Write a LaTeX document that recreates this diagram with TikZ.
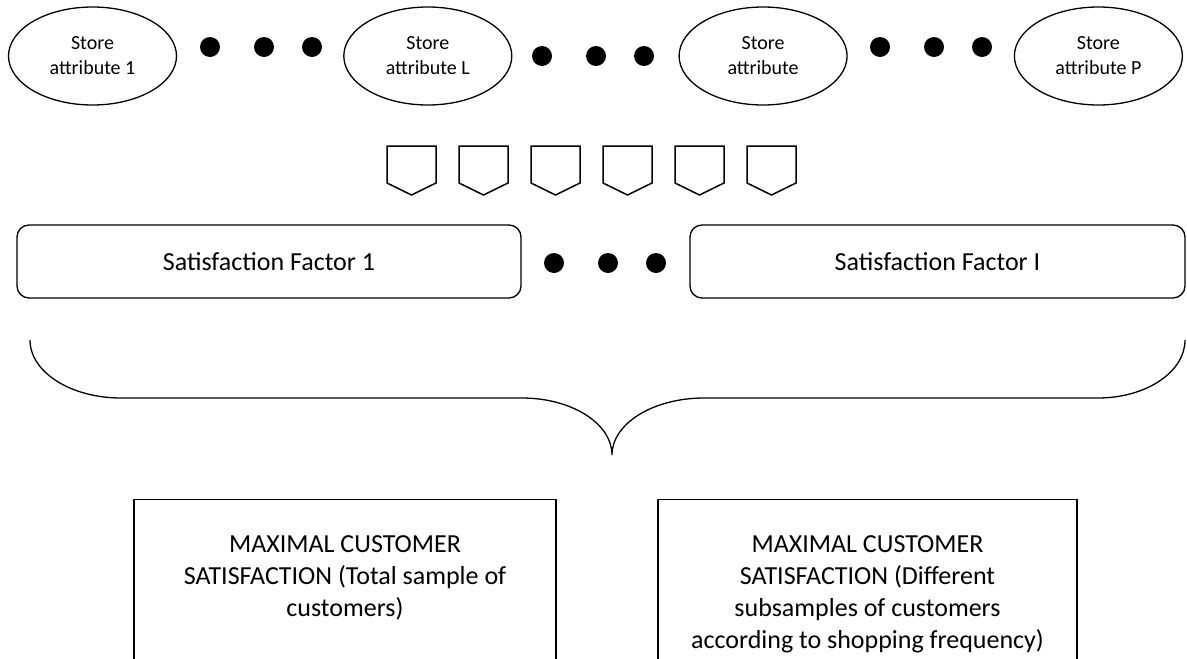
\documentclass[tikz,border=0pt]{standalone}
\usepackage{fontspec}
\setmainfont{Carlito}
\usetikzlibrary{positioning, shapes.geometric}
\tikzset{
	x=1pt, y=1pt, % one unit is one pixel of the sketch
	every node/.style={inner sep=0pt},
	attr/.style={ellipse, draw, line width=1.3pt, minimum width=168pt, minimum height=98pt, align=center, font=\fontsize{20}{25}\selectfont}, % the store attributes
	dot/.style={circle, fill=black, minimum size=20pt}, % the dots that stand for the rest
	tag/.style={draw, line width=1.5pt, line join=miter}, % the small pentagons
	factor/.style={draw, rounded corners=12pt, line width=1.3pt, minimum height=73pt, font=\fontsize{26}{32}\selectfont}, % the satisfaction factors
	outcome/.style={draw, line width=1.2pt, minimum height=220pt, anchor=north}, % the result boxes, cut at the bottom
	outtext/.style={align=center, font=\fontsize{26}{32}\selectfont},
	brace/.style={draw, line width=1.3pt},
}

\begin{document}
\begin{tikzpicture}
	\useasboundingbox (0,0) rectangle (1187,-659);
	\clip (0,0) rectangle (1187,-659);

	\node[attr] (a1) at (92.5,-56) {Store\\attribute 1};
	\node[attr, right=166pt of a1] (al) {Store\\attribute L};
	\node[attr, right=166pt of al] (a) {Store\\attribute};
	\node[attr, right=166pt of a] (ap) {Store\\attribute P};

	\foreach \x/\y [count=\n] in {210/47, 264/47, 312/47, 542/56, 596/56, 644/56, 880/47, 934/47, 982/47, 554/263, 608/263, 656/263}
		\node[dot] (dot\n) at (\x,-\y) {};

	\foreach \i in {0,...,5}
		\draw[tag] ({387+72*\i},-146) -- ++(49,0) -- ++(0,-37) -- ++(-24.5,-12) -- ++(-24.5,12) -- cycle;

	\node[factor, minimum width=504pt] (f1) at (269,-261.5) {Satisfaction Factor 1};
	\node[factor, minimum width=495pt] (fi) at (937.5,-261.5) {Satisfaction Factor I};

	\draw[brace] (30,-340) arc[start angle=180, end angle=270, x radius=91pt, y radius=58pt]
		-- (522,-398) arc[start angle=90, end angle=0, x radius=90pt, y radius=57pt]
		arc[start angle=180, end angle=90, x radius=92pt, y radius=57pt]
		-- (1098,-398) arc[start angle=270, end angle=360, x radius=87pt, y radius=58pt];

	\node[outcome, minimum width=422pt] (tot) at (345,-499) {};
	\node[outcome, minimum width=419pt] (sub) at (867.5,-499) {};
	\node[outtext, below=36pt of tot.north] (tott) {MAXIMAL CUSTOMER\\SATISFACTION (Total sample of\\customers)};
	\node[outtext, below=36pt of sub.north] (subt) {MAXIMAL CUSTOMER\\SATISFACTION (Different\\subsamples of customers\\according to shopping frequency)};
\end{tikzpicture}
\end{document}
